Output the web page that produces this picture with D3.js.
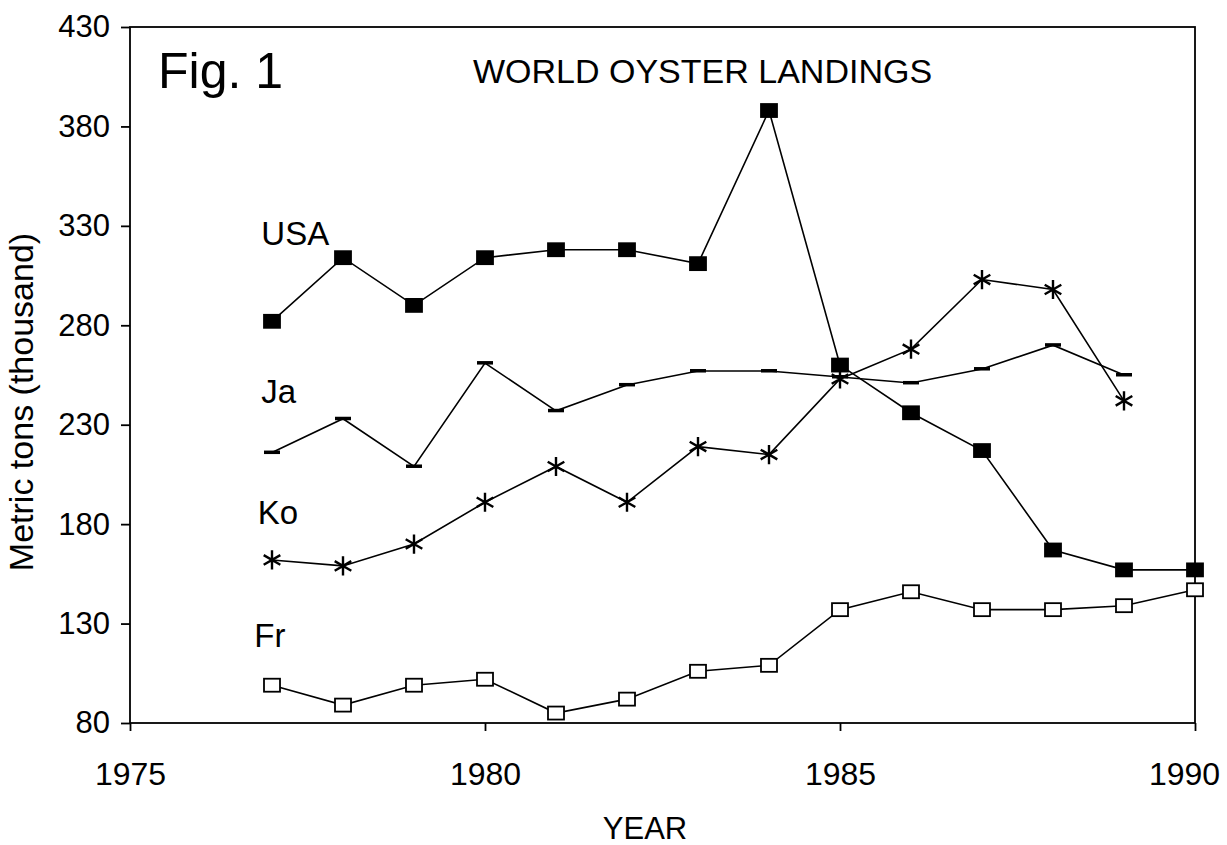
<!DOCTYPE html>
<html>
<head>
<meta charset="utf-8">
<script src="https://cdn.jsdelivr.net/npm/d3@7/dist/d3.min.js"></script>
<style>
	body{margin:0;background:#fff;}
	svg{font-family:Arial,"Liberation Sans",sans-serif;}
	.axis path,.axis line{stroke:#000;stroke-width:1.8;}
	.axis text{fill:#000;}
	.frame{fill:none;stroke:#000;stroke-width:1.8;}
	.line{fill:none;stroke:#000;stroke-width:1.6;}
</style>
</head>
<body>
<div id="plot"></div>
<script>
//World oyster landings, thousand metric tons
var years = [1977,1978,1979,1980,1981,1982,1983,1984,1985,1986,1987,1988,1989,1990];
var usa = [282,314,290,314,318,318,311,388,260,236,217,167,157,157];
var japan = [216,233,209,261,237,250,257,257,254,251,258,270,255]; //no 1990 value
var korea = [162,159,170,191,209,191,219,215,253,268,303,298,242]; //no 1990 value
var france = [99,89,99,102,85,92,106,109,137,146,137,137,139,147];
var yTicks = [80,130,180,230,280,330,380,430];
var xTicks = [1975,1980,1985,1990];

var W = 1227, H = 845;
var m = {t:27,r:32,b:122,l:130},
	w = W - m.l - m.r,
	h = H - m.t - m.b;

var svg = d3.select('#plot').append('svg')
	.attr('width',W)
	.attr('height',H);
var plot = svg.append('g')
	.attr('transform','translate('+m.l+','+m.t+')');

var scaleX = d3.scaleLinear().domain([1975,1990]).range([0,w]),
	scaleY = d3.scaleLinear().domain([80,430]).range([h,0]);

//frame
plot.append('rect').attr('class','frame')
	.attr('x',0).attr('y',0).attr('width',w).attr('height',h);

//axes
var xAxis = d3.axisBottom(scaleX).tickValues(xTicks).tickFormat(d3.format('d')).tickSizeOuter(0).tickSize(8).tickPadding(31);
var yAxis = d3.axisLeft(scaleY).tickValues(yTicks).tickSizeOuter(0).tickSize(9).tickPadding(11);

plot.append('g').attr('class','axis axis-x')
	.attr('transform','translate(0,'+h+')')
	.call(xAxis)
	.selectAll('text')
	.style('font-size','32px')
	.attr('dx',function(d){return d===1990?-11:0});
plot.append('g').attr('class','axis axis-y')
	.call(yAxis)
	.selectAll('text').style('font-size','31px');
plot.selectAll('.axis .domain').remove();

//axis titles
svg.append('text')
	.attr('x',645).attr('y',839)
	.attr('text-anchor','middle')
	.style('font-size','31px')
	.text('YEAR');
svg.append('text')
	.attr('transform','translate(33,402) rotate(-90)')
	.attr('text-anchor','middle')
	.style('font-size','34px')
	.text('Metric tons (thousand)');

//titles
svg.append('text')
	.attr('x',158).attr('y',88)
	.style('font-size','50px')
	.text('Fig. 1');
svg.append('text')
	.attr('x',473).attr('y',83)
	.style('font-size','34px')
	.text('WORLD OYSTER LANDINGS');

//series
function toPoints(vals){
	return vals.map(function(v,i){return {year:years[i],value:v}});
}
var line = d3.line()
	.x(function(d){return scaleX(d.year)})
	.y(function(d){return scaleY(d.value)});

var series = [
	{name:'USA',points:toPoints(usa),marker:'filled',label:[1976.85,320.5]},
	{name:'Ja',points:toPoints(japan),marker:'dash',label:[1976.85,241]},
	{name:'Ko',points:toPoints(korea),marker:'star',label:[1976.8,180]},
	{name:'Fr',points:toPoints(france),marker:'open',label:[1976.75,118]}
];

series.forEach(function(s){
	var g = plot.append('g').attr('class','series');
	g.append('path').attr('class','line')
		.datum(s.points)
		.attr('d',line);

	var pts = g.selectAll('.pt')
		.data(s.points)
		.enter()
		.append('g').attr('class','pt')
		.attr('transform',function(d){return 'translate('+scaleX(d.year)+','+scaleY(d.value)+')'});

	if(s.marker==='filled' || s.marker==='open'){
		pts.append('rect')
			.attr('x',-8).attr('y',-6.5)
			.attr('width',16).attr('height',13)
			.attr('fill',s.marker==='filled'?'#000':'#fff')
			.attr('stroke','#000')
			.attr('stroke-width',1.8);
	}else if(s.marker==='dash'){
		pts.append('rect')
			.attr('x',-8).attr('y',-2)
			.attr('width',16).attr('height',3.5)
			.attr('fill','#000');
	}else{
		pts.append('path')
			.attr('d',d3.symbol().type(d3.symbolAsterisk).size(260))
			.attr('fill','none')
			.attr('stroke','#000')
			.attr('stroke-width',2.4);
	}

	plot.append('text')
		.attr('x',scaleX(s.label[0]))
		.attr('y',scaleY(s.label[1]))
		.style('font-size','33px')
		.text(s.name);
});
</script>
</body>
</html>
